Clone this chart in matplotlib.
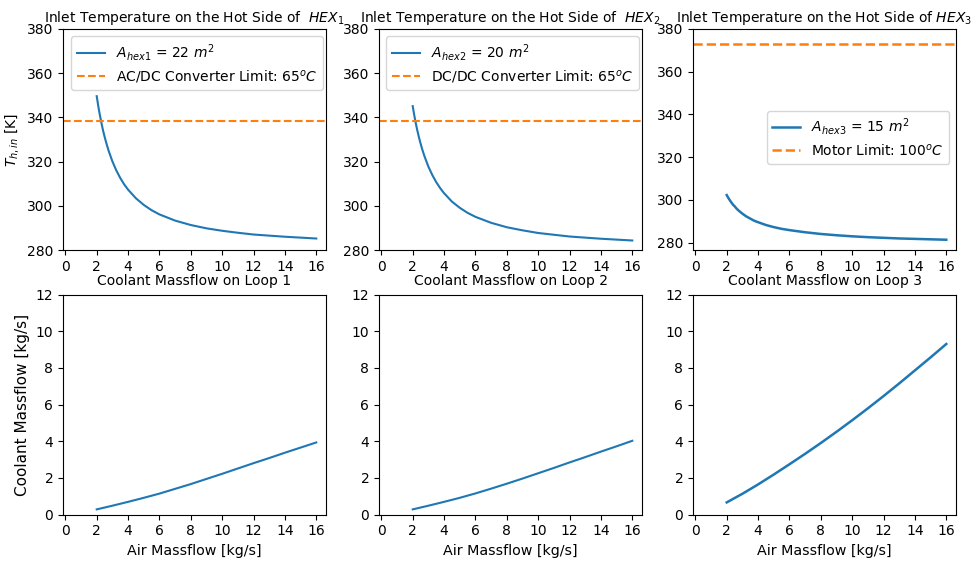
import numpy as np
import matplotlib
matplotlib.use("Agg")
import matplotlib.pyplot as plt

# ---- data ----
x_top = [2, 2.1, 2.2, 2.3, 2.4, 2.5, 2.6, 2.75, 3, 3.25, 3.5, 3.75, 4, 4.5, 5, 5.5, 6,
         7, 8, 9, 10, 11, 12, 13, 14, 15, 16]
T_hex1 = [349.6, 345.1, 341.1, 337.5, 334.2, 331.3, 328.7, 325.1, 320.1, 316.0, 312.6, 309.7,
          307.3, 303.4, 300.4, 298.0, 296.1,
          293.3, 291.3, 289.8, 288.7, 287.8, 287.0, 286.5, 286.0, 285.6, 285.2]
T_hex2 = [345.1, 340.9, 337.2, 333.9, 330.9, 328.2, 325.7, 322.4, 317.7, 313.9, 310.7, 308.0,
          305.7, 301.9, 299.1, 296.8, 295.0,
          292.3, 290.3, 288.9, 287.7, 286.9, 286.1, 285.6, 285.1, 284.7, 284.3]
T_hex3 = [302.3, 301.0, 299.85, 298.8, 297.8, 297.1, 296.2, 295.1, 293.6, 292.3, 291.3, 290.3,
          289.6, 288.3, 287.3, 286.5, 285.9,
          284.9, 284.1, 283.5, 283.0, 282.6, 282.3, 282.0, 281.8, 281.6, 281.4]

x_bot = [2, 3, 4, 5, 6, 7, 8, 9, 10, 11, 12, 13, 14, 15, 16]
m_loop1 = [0.28, 0.48, 0.69, 0.91, 1.14, 1.40, 1.66, 1.94, 2.22, 2.51, 2.80, 3.08, 3.37, 3.65, 3.93]
m_loop2 = [0.28, 0.48, 0.69, 0.91, 1.15, 1.41, 1.68, 1.96, 2.25, 2.54, 2.84, 3.13, 3.43, 3.72, 4.02]
m_loop3 = [0.66, 1.13, 1.64, 2.18, 2.74, 3.31, 3.90, 4.51, 5.14, 5.79, 6.46, 7.15, 7.86, 8.57, 9.30]

limits = [338.15, 338.15, 373.15]
limit_labels = ['AC/DC Converter Limit: 65$^oC$',
                'DC/DC Converter Limit: 65$^oC$',
                'Motor Limit: 100$^oC$']
area_labels = [r'$A_{hex1}$ = 22 $m^2$', r'$A_{hex2}$ = 20 $m^2$', r'$A_{hex3}$ = 15 $m^2$']
titles = ['Inlet Temperature on the Hot Side of  $HEX_1$',
          'Inlet Temperature on the Hot Side of  $HEX_2$',
          'Inlet Temperature on the Hot Side of $HEX_3$']
top_xlabels = ['Coolant Massflow on Loop 1', 'Coolant Massflow on Loop 2', 'Coolant Massflow on Loop 3']
temps = [T_hex1, T_hex2, T_hex3]
mflows = [m_loop1, m_loop2, m_loop3]

plt.rcParams['font.family'] = ['DejaVu Sans']
plt.rcParams['font.size'] = 10
plt.rcParams['mathtext.fontset'] = 'dejavusans'

fig = plt.figure(figsize=(9.73, 5.61), dpi=100)
lefts = [63/973, 379/973, 693/973]
w = 263/973
top_b, top_h = 1 - 250/561, 221/561
bot_b, bot_h = 1 - 514.5/561, 220/561

blue = '#1f77b4'
orange = '#ff7f0e'

for i in range(3):
    ax = fig.add_axes([lefts[i], top_b, w, top_h])
    lw = 1.8 if i == 2 else 1.5
    ax.plot(x_top, temps[i], color=blue, lw=lw, label=area_labels[i])
    ax.axhline(limits[i], color=orange, ls='--', lw=lw, label=limit_labels[i])
    ax.set_xlim(-0.15, 16.62)
    if i == 2:
        ax.set_ylim(276.6, 380)
    else:
        ax.set_ylim(280, 380)
    ax.set_xticks(np.arange(0, 17, 2))
    ax.set_yticks(np.arange(280, 381, 20))
    ax.set_title(titles[i], fontsize=10, pad=5)
    ax.set_xlabel(top_xlabels[i], fontsize=10, labelpad=0)
    if i == 0:
        ax.set_ylabel('$T_{h,in}$ [K]', fontsize=10)
    leg_kw = dict(borderaxespad=0, fontsize=10, labelspacing=0.35, borderpad=0.4,
                  handlelength=2.0, handletextpad=0.8)
    if i < 2:
        ax.legend(loc='upper right', bbox_to_anchor=(0.988, 0.967), **leg_kw)
    else:
        ax.legend(loc='center right', bbox_to_anchor=(0.975, 0.51), **leg_kw)

    axb = fig.add_axes([lefts[i], bot_b, w, bot_h])
    axb.plot(x_bot, mflows[i], color=blue, lw=lw)
    axb.set_xlim(-0.15, 16.62)
    axb.set_ylim(0, 12)
    axb.set_xticks(np.arange(0, 17, 2))
    axb.set_yticks(np.arange(0, 13, 2))
    axb.set_xlabel('Air Massflow [kg/s]', fontsize=10.3)
    if i == 0:
        axb.set_ylabel('Coolant Massflow [kg/s]', fontsize=11)

fig.savefig('out.png', dpi=100)
